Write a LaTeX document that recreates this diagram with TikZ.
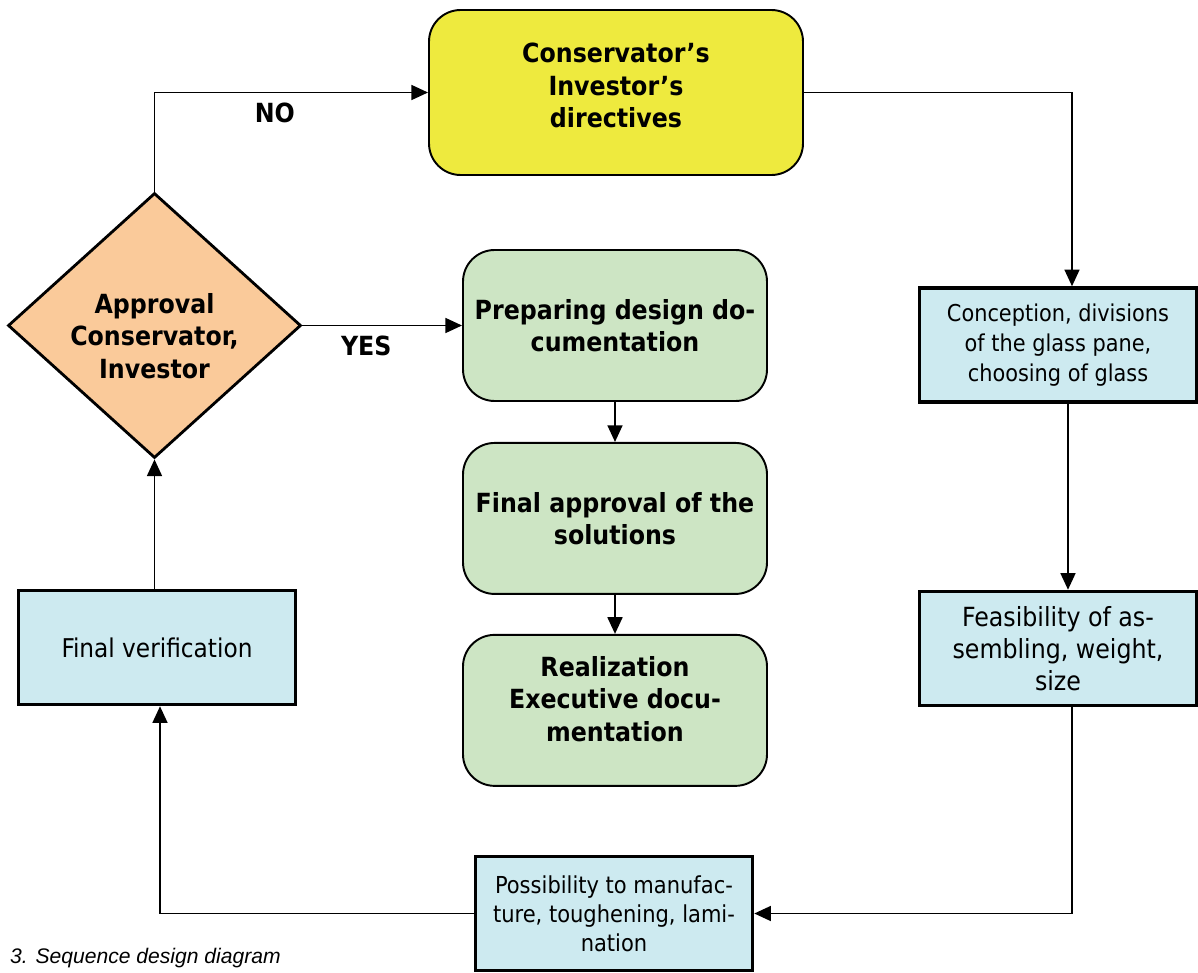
\documentclass[tikz,border=0pt]{standalone}
\usepackage{fontspec}
\setmainfont{DejaVu Sans Condensed}
\newfontfamily\captionfont{Liberation Sans}
\usepackage{xcolor}
\usepackage{tikz}
\usetikzlibrary{positioning,shapes.geometric,arrows.meta}
\definecolor{dirYellow}{RGB}{238,234,62}
\definecolor{apprOrange}{RGB}{250,202,154}
\definecolor{docGreen}{RGB}{205,229,196}
\definecolor{checkBlue}{RGB}{205,234,240}

\begin{document}
\begin{tikzpicture}[
    node distance=0.8cm,
    boldtxt/.style={font=\fontsize{15}{18.5}\selectfont\bfseries},
    directive/.style={draw, rounded corners=18pt, line width=1.1pt, fill=dirYellow,
                      minimum width=7.48cm, minimum height=3.3cm, align=center, boldtxt},
    decision/.style={draw, diamond, line width=1.6pt, fill=apprOrange, inner sep=0pt,
                     minimum width=5.86cm, minimum height=5.3cm},
    docstep/.style={draw, rounded corners=18pt, line width=1.1pt, fill=docGreen,
                    minimum width=6.08cm, minimum height=3.02cm, align=center, boldtxt},
    check/.style={draw, line width=2pt, fill=checkBlue, minimum width=5.54cm,
                  minimum height=2.28cm, align=center},
    arr/.style={-{Triangle[length=9.5pt, width=8.5pt]}, line width=1.1pt},
  ]
  \useasboundingbox (0,0) rectangle (23.96,-19.46);

  % Top and decision
  \node[directive] (dir) at (12.32,-1.85) {Conservator’s\\Investor’s\\directives\\[-10.5pt]\mbox{}};
  \node[decision] (appr) at (3.09,-6.51) {};
  \node[boldtxt, align=center] (apprtxt) at ([yshift=-0.21cm]appr.center) {Approval\\Conservator,\\Investor};

  % Documentation column
  \node[docstep] (prep) at (12.3,-6.51) {Preparing design do-\\cumentation};
  \node[docstep, below=of prep] (final) {Final approval of the\\solutions};
  \node[docstep, below=0.78cm of final] (real) {Realization\\Executive docu-\\mentation\\[-5pt]\mbox{}};

  % Checks
  \node[check, font=\fontsize{13.2}{17}\selectfont] (conc) at (21.16,-6.9) {Conception, divisions\\of the glass pane,\\choosing of glass};
  \node[check, below=3.72cm of conc, font=\fontsize{15}{18.2}\selectfont] (feas) {Feasibility of as-\\sembling, weight,\\size};
  \node[check, font=\fontsize{13.3}{16.5}\selectfont] (manu) at (12.28,-18.27) {Possibility to manufac-\\ture, toughening, lami-\\nation};
  \node[check, font=\fontsize{14.7}{18}\selectfont] (verif) at (3.14,-12.95) {Final verification};

  \draw[arr] (appr.north) |- node[boldtxt, pos=0.72, below=2pt] {NO} (dir.west);
  \draw[arr] (dir.east) -| ([xshift=0.28cm]conc.north);
  \draw[arr] ([xshift=0.2cm]conc.south) -- ([xshift=0.2cm]feas.north);
  \draw[arr] ([xshift=0.28cm]feas.south) |- (manu.east);
  \draw[arr] (manu.west) -| ([xshift=0.06cm]verif.south);
  \draw[arr] ([xshift=-0.05cm]verif.north) -- (appr.south);
  \draw[arr] (appr.east) -- node[boldtxt, below=2pt, pos=0.4] {YES} (prep.west);
  \draw[arr] (prep) -- (final);
  \draw[arr] (final) -- (real);

  \node[anchor=west, font=\captionfont\fontsize{12}{14}\selectfont\itshape] (cap) at (0.08,-19.16) {3. Sequence design diagram};
\end{tikzpicture}
\end{document}
